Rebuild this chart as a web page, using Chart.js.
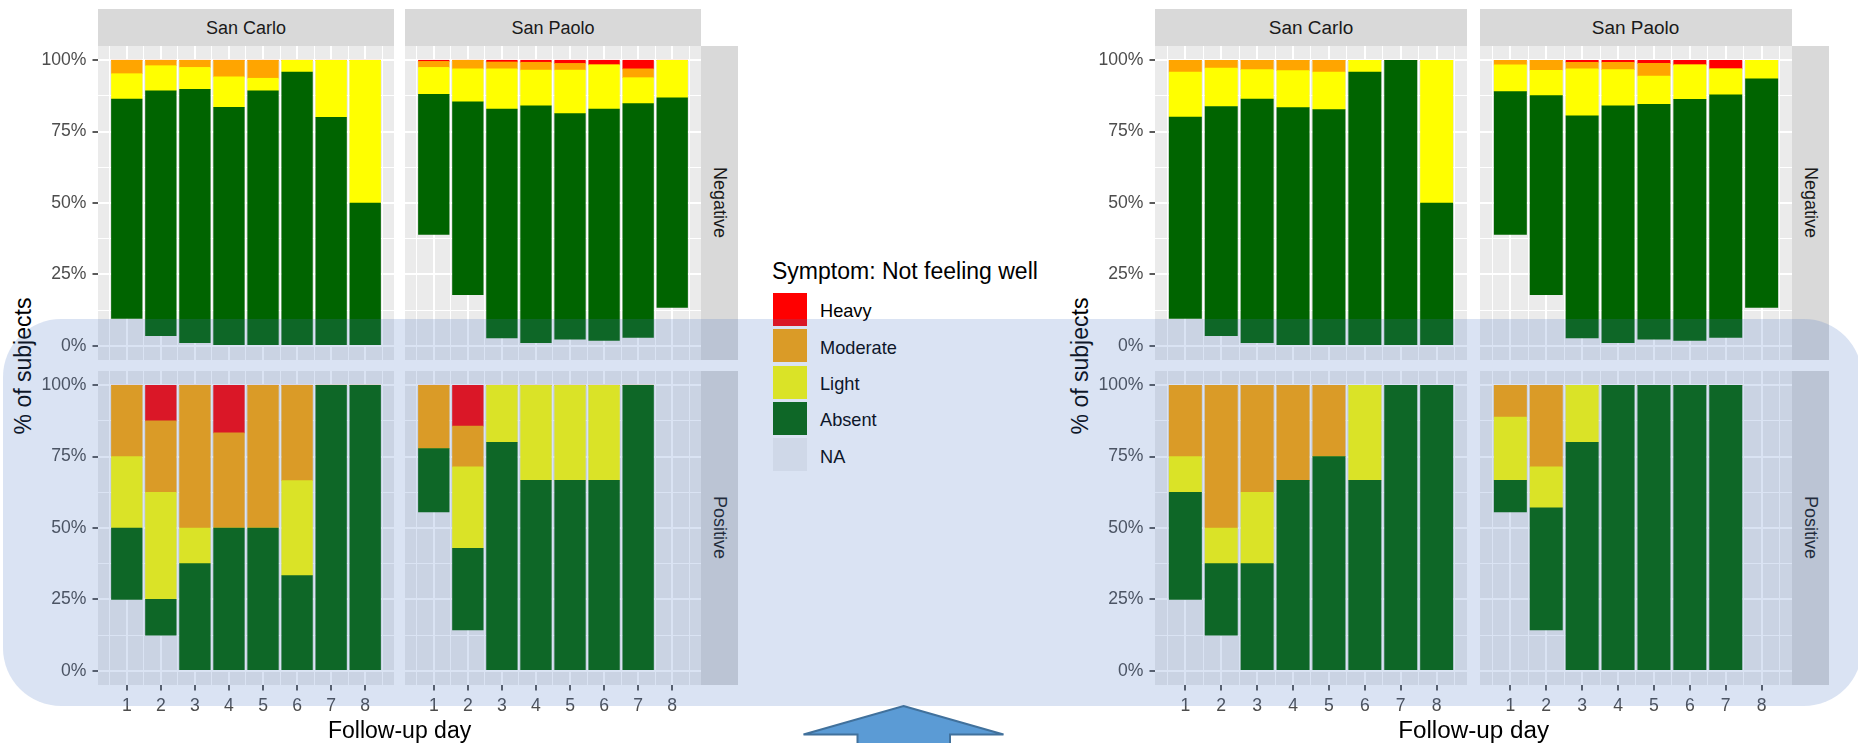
<!DOCTYPE html>
<html>
<head>
<meta charset="utf-8">
<script src="https://cdn.jsdelivr.net/npm/chart.js@4.4.1/dist/chart.umd.min.js"></script>
<style>
  html, body { margin: 0; padding: 0; }
  body { width: 1858px; height: 743px; overflow: hidden; background: #ffffff; position: relative;
         font-family: "Liberation Sans", Arial, sans-serif; }
  canvas { position: absolute; }
  .strip { position: absolute; background: #D9D9D9; color: #1A1A1A; font-size: 18px;
           display: flex; align-items: center; justify-content: center; line-height: 1; }
  .strip span { display: inline-block; white-space: nowrap; }
  .strip.side span { writing-mode: vertical-rl; }
  .title { position: absolute; font-size: 23px; line-height: 1; color: #000; white-space: nowrap; }
  .ytitle { position: absolute; font-size: 23px; line-height: 1; color: #000; white-space: nowrap;
            transform: translate(-50%, -50%) rotate(-90deg); }
  .key { position: absolute; width: 34px; height: 33px; }
  .keylab { position: absolute; font-size: 18.2px; line-height: 1; color: #000; height: 18.2px; white-space: nowrap; }
  #band { position: absolute; left: 3px; top: 319px; width: 1859px; height: 387px; border-radius: 58px;
          background: rgba(68, 114, 196, 0.2); pointer-events: none; z-index: 10; }
  #arrow { position: absolute; left: 0; top: 0; z-index: 11; pointer-events: none; }
</style>
</head>
<body>
<script>
// ---- categories, levels, ticks ----
const days = [1, 2, 3, 4, 5, 6, 7, 8];
const sites = ['San Carlo', 'San Paolo'];
const results = ['Negative', 'Positive'];
const levelNames = ['Heavy', 'Moderate', 'Light', 'Absent', 'NA'];
const levelColors = ['#FF0000', '#FFA500', '#FFFF00', '#006400', '#F2F2F2'];
const yBreaks = [0, 12.5, 25, 37.5, 50, 62.5, 75, 87.5, 100];
const xBreaks = [0.5, 1, 1.5, 2, 2.5, 3, 3.5, 4, 4.5, 5, 5.5, 6, 6.5, 7, 7.5, 8, 8.5];

// ---- left figure: % of subjects per severity level ----
const aCarloNegNA       = [9.6, 3.5, 1.1, 0, 0, 0, 0, 0];
const aCarloNegAbsent   = [76.8, 85.8, 88.7, 83.5, 89.3, 95.9, 80, 50];
const aCarloNegLight    = [8.9, 8.8, 7.7, 10.7, 4.4, 4.1, 20, 50];
const aCarloNegModerate = [4.7, 1.9, 2.5, 5.8, 6.3, 0, 0, 0];
const aCarloNegHeavy    = [0, 0, 0, 0, 0, 0, 0, 0];

const aPaoloNegNA       = [39.0, 17.9, 2.7, 1.1, 2.3, 1.9, 2.9, 13.4];
const aPaoloNegAbsent   = [49.1, 67.5, 80.2, 82.9, 79.0, 81.0, 81.9, 73.4];
const aPaoloNegLight    = [9.4, 11.6, 14.1, 12.6, 15.3, 15.5, 9.1, 13.2];
const aPaoloNegModerate = [2.1, 3.0, 2.4, 2.7, 2.3, 0, 3.1, 0];
const aPaoloNegHeavy    = [0.4, 0, 0.6, 0.7, 1.1, 1.6, 3.0, 0];

const aCarloPosNA       = [25, 12.5, 0, 0, 0, 0, 0, 0];
const aCarloPosAbsent   = [25, 12.5, 37.5, 50, 50, 33.3, 100, 100];
const aCarloPosLight    = [25, 37.5, 12.5, 0, 0, 33.3, 0, 0];
const aCarloPosModerate = [25, 25, 50, 33.3, 50, 33.4, 0, 0];
const aCarloPosHeavy    = [0, 12.5, 0, 16.7, 0, 0, 0, 0];

const aPaoloPosNA       = [55.6, 14.3, 0, 0, 0, 0, 0, null];
const aPaoloPosAbsent   = [22.2, 28.6, 80, 66.7, 66.7, 66.7, 100, null];
const aPaoloPosLight    = [0, 28.5, 20, 33.3, 33.3, 33.3, 0, null];
const aPaoloPosModerate = [22.2, 14.3, 0, 0, 0, 0, 0, null];
const aPaoloPosHeavy    = [0, 14.3, 0, 0, 0, 0, 0, null];

// ---- right figure ----
const bCarloNegNA       = [9.6, 3.5, 1.1, 0, 0, 0, 0, 0];
const bCarloNegAbsent   = [70.5, 80.3, 85.3, 83.4, 82.7, 95.9, 100, 50];
const bCarloNegLight    = [15.8, 13.5, 10.3, 13.0, 13.2, 4.1, 0, 50];
const bCarloNegModerate = [4.1, 2.7, 3.3, 3.6, 4.1, 0, 0, 0];
const bCarloNegHeavy    = [0, 0, 0, 0, 0, 0, 0, 0];

const bPaoloNegNA       = [39.0, 17.9, 2.7, 1.1, 2.3, 1.9, 2.9, 13.4];
const bPaoloNegAbsent   = [50.0, 69.7, 77.8, 82.9, 82.3, 84.4, 85.0, 80.1];
const bPaoloNegLight    = [9.4, 8.9, 16.5, 12.7, 9.9, 12.1, 9.1, 6.5];
const bPaoloNegModerate = [1.6, 3.5, 2.3, 2.6, 4.4, 0, 0, 0];
const bPaoloNegHeavy    = [0, 0, 0.7, 0.7, 1.1, 1.6, 3.0, 0];

const bCarloPosNA       = [25, 12.5, 0, 0, 0, 0, 0, 0];
const bCarloPosAbsent   = [37.5, 25, 37.5, 66.7, 75, 66.7, 100, 100];
const bCarloPosLight    = [12.5, 12.5, 25, 0, 0, 33.3, 0, 0];
const bCarloPosModerate = [25, 50, 37.5, 33.3, 25, 0, 0, 0];
const bCarloPosHeavy    = [0, 0, 0, 0, 0, 0, 0, 0];

const bPaoloPosNA       = [55.6, 14.3, 0, 0, 0, 0, 0, null];
const bPaoloPosAbsent   = [11.1, 42.8, 80, 100, 100, 100, 100, null];
const bPaoloPosLight    = [22.2, 14.3, 20, 0, 0, 0, 0, null];
const bPaoloPosModerate = [11.1, 28.6, 0, 0, 0, 0, 0, null];
const bPaoloPosHeavy    = [0, 0, 0, 0, 0, 0, 0, null];

// ---- drawing ----
const FONT = "'Liberation Sans', Arial, sans-serif";
Chart.defaults.font.family = FONT;
const X_MIN = 0.155, X_MAX = 8.845, Y_MIN = -5, Y_MAX = 105;
const Y_AXIS_W = 60, X_AXIS_H = 36;
const PANEL_BG = '#EBEBEB';

const panelBackground = {
  id: 'panelBackground',
  beforeDraw(chart) {
    const { ctx, chartArea: a } = chart;
    ctx.save();
    ctx.fillStyle = PANEL_BG;
    ctx.fillRect(a.left, a.top, a.right - a.left, a.bottom - a.top);
    ctx.restore();
  }
};

function zeroPadding(s) {
  s.paddingTop = 0; s.paddingBottom = 0; s.paddingLeft = 0; s.paddingRight = 0;
}

function drawPanel(p) {
  const axisW = p.showY ? Y_AXIS_W : 0;
  const axisH = p.showX ? X_AXIS_H : 0;
  const c = document.createElement('canvas');
  c.width = p.w + axisW;
  c.height = p.h + axisH;
  c.style.left = (p.x - axisW) + 'px';
  c.style.top = p.y + 'px';
  document.body.appendChild(c);

  const barPx = 0.9 * p.w / (X_MAX - X_MIN);
  // bottom to top: NA, Absent, Light, Moderate, Heavy
  const stack = [
    { data: p.series[4], color: 'rgba(0,0,0,0)', label: levelNames[4] },
    { data: p.series[3], color: levelColors[3], label: levelNames[3] },
    { data: p.series[2], color: levelColors[2], label: levelNames[2] },
    { data: p.series[1], color: levelColors[1], label: levelNames[1] },
    { data: p.series[0], color: levelColors[0], label: levelNames[0] }
  ];

  const isMajorX = v => Number.isInteger(v);
  const isMajorY = v => v % 25 === 0;

  new Chart(c, {
    type: 'bar',
    data: {
      labels: days,
      datasets: stack.map(s => ({
        label: s.label, data: s.data, backgroundColor: s.color,
        borderWidth: 0, barThickness: barPx
      }))
    },
    options: {
      responsive: false, animation: false, devicePixelRatio: 1,
      layout: { padding: 0 },
      plugins: { legend: { display: false }, tooltip: { enabled: false } },
      scales: {
        x: {
          type: 'linear', min: X_MIN, max: X_MAX, offset: false, stacked: true,
          afterBuildTicks: s => { s.ticks = xBreaks.map(v => ({ value: v })); },
          afterFit: s => { s.height = axisH; zeroPadding(s); },
          border: { display: false },
          grid: {
            offset: false, color: '#FFFFFF',
            lineWidth: ctx => (ctx.tick && isMajorX(ctx.tick.value)) ? 2 : 1,
            drawTicks: p.showX, tickLength: 5.5, tickWidth: 1.6,
            tickColor: ctx => (ctx.tick && isMajorX(ctx.tick.value)) ? '#333333' : 'rgba(0,0,0,0)'
          },
          ticks: {
            display: p.showX, autoSkip: false, maxRotation: 0, minRotation: 0, padding: 5,
            color: '#4D4D4D', font: { family: FONT, size: 17.6 },
            callback: v => isMajorX(v) ? String(v) : ''
          }
        },
        y: {
          type: 'linear', min: Y_MIN, max: Y_MAX, stacked: true,
          afterBuildTicks: s => { s.ticks = yBreaks.map(v => ({ value: v })); },
          afterFit: s => { s.width = axisW; zeroPadding(s); },
          border: { display: false },
          grid: {
            color: '#FFFFFF',
            lineWidth: ctx => (ctx.tick && isMajorY(ctx.tick.value)) ? 2 : 1,
            drawTicks: p.showY, tickLength: 5.5, tickWidth: 1.6,
            tickColor: ctx => (ctx.tick && isMajorY(ctx.tick.value)) ? '#333333' : 'rgba(0,0,0,0)'
          },
          ticks: {
            display: p.showY, autoSkip: false, padding: 6,
            color: '#4D4D4D', font: { family: FONT, size: 17.6 },
            callback: v => isMajorY(v) ? v + '%' : ''
          }
        }
      }
    },
    plugins: [panelBackground]
  });
}

function addDiv(cls, text, style) {
  const d = document.createElement('div');
  d.className = cls;
  if (cls.indexOf('strip') >= 0) {
    const s = document.createElement('span');
    s.textContent = text;
    d.appendChild(s);
  } else {
    d.textContent = text;
  }
  Object.assign(d.style, style);
  document.body.appendChild(d);
  return d;
}

// one faceted figure: 2 sites (columns) x 2 results (rows)
function drawFigure(f) {
  f.panels.forEach((row, r) => {
    row.forEach((series, col) => {
      drawPanel({
        x: f.cols[col][0], w: f.cols[col][1] - f.cols[col][0],
        y: f.rows[r][0], h: f.rows[r][1] - f.rows[r][0],
        showY: col === 0, showX: r === 1, series
      });
    });
  });
  sites.forEach((name, col) => {
    const d = addDiv('strip', name, {
      left: f.cols[col][0] + 'px', width: (f.cols[col][1] - f.cols[col][0]) + 'px',
      top: f.stripTop + 'px', height: (f.rows[0][0] - f.stripTop) + 'px'
    });
    d.firstChild.style.transform = 'scaleX(' + f.stretch + ')';
  });
  results.forEach((name, r) => {
    addDiv('strip side', name, {
      left: f.cols[1][1] + 'px', width: f.sideW + 'px',
      top: f.rows[r][0] + 'px', height: (f.rows[r][1] - f.rows[r][0]) + 'px'
    });
  });
  const xt = addDiv('title', 'Follow-up day', { top: (f.xTitleY - 11.5) + 'px' });
  xt.style.left = ((f.cols[0][0] + f.cols[1][1]) / 2 - xt.offsetWidth / 2) + 'px';
  xt.style.transform = 'scaleX(' + f.stretch + ')';
  addDiv('ytitle', '% of subjects', { left: f.yTitleX + 'px', top: ((f.rows[0][0] + f.rows[1][1]) / 2) + 'px' });
}

drawFigure({
  cols: [[98, 394], [405, 701]], rows: [[46, 360], [371, 685]],
  stripTop: 9, sideW: 37, xTitleY: 730, yTitleX: 22.5, stretch: 1,
  panels: [
    [[aCarloNegHeavy, aCarloNegModerate, aCarloNegLight, aCarloNegAbsent, aCarloNegNA],
     [aPaoloNegHeavy, aPaoloNegModerate, aPaoloNegLight, aPaoloNegAbsent, aPaoloNegNA]],
    [[aCarloPosHeavy, aCarloPosModerate, aCarloPosLight, aCarloPosAbsent, aCarloPosNA],
     [aPaoloPosHeavy, aPaoloPosModerate, aPaoloPosLight, aPaoloPosAbsent, aPaoloPosNA]]
  ]
});

drawFigure({
  cols: [[1155, 1467], [1480, 1792]], rows: [[46, 360], [371, 685]],
  stripTop: 9, sideW: 37, xTitleY: 730, yTitleX: 1080, stretch: 1.054,
  panels: [
    [[bCarloNegHeavy, bCarloNegModerate, bCarloNegLight, bCarloNegAbsent, bCarloNegNA],
     [bPaoloNegHeavy, bPaoloNegModerate, bPaoloNegLight, bPaoloNegAbsent, bPaoloNegNA]],
    [[bCarloPosHeavy, bCarloPosModerate, bCarloPosLight, bCarloPosAbsent, bCarloPosNA],
     [bPaoloPosHeavy, bPaoloPosModerate, bPaoloPosLight, bPaoloPosAbsent, bPaoloPosNA]]
  ]
});

// shared legend
addDiv('title', 'Symptom: Not feeling well', { left: '772px', top: '260px' });
levelNames.forEach((name, i) => {
  const top = 293 + i * 36.3;
  addDiv('key', '', { left: '773px', top: top + 'px', background: levelColors[i] });
  addDiv('keylab', name, { left: '820px', top: (top + 16.5 - 9.1 + 2) + 'px' });
});

// highlight band over the Positive row and the pointer below it
const band = document.createElement('div');
band.id = 'band';
document.body.appendChild(band);

const svgNS = 'http://www.w3.org/2000/svg';
const svg = document.createElementNS(svgNS, 'svg');
svg.setAttribute('id', 'arrow');
svg.setAttribute('width', '1858');
svg.setAttribute('height', '743');
const poly = document.createElementNS(svgNS, 'polygon');
poly.setAttribute('points', '903.5,706 1003.5,734.5 950,734.5 950,760 857.5,760 857.5,734.5 803.5,734.5');
poly.setAttribute('fill', '#5B9BD5');
poly.setAttribute('stroke', '#41719C');
poly.setAttribute('stroke-width', '2');
poly.setAttribute('stroke-linejoin', 'miter');
svg.appendChild(poly);
document.body.appendChild(svg);
</script>
</body>
</html>
